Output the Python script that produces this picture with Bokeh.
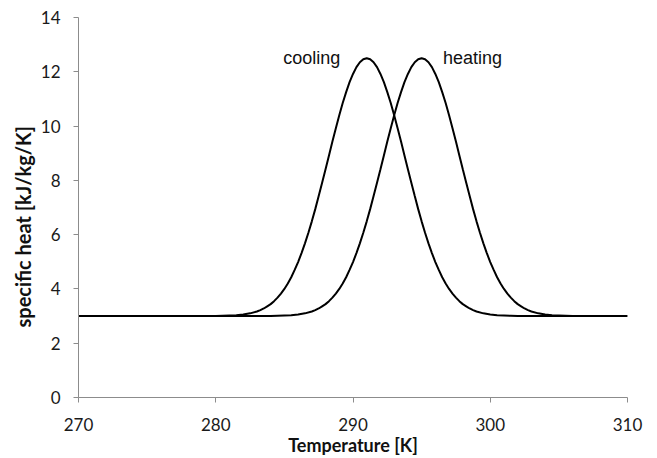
from bokeh.plotting import figure
from bokeh.models import Range1d, FixedTicker, Label, Title
from bokeh.embed import file_html
from bokeh.resources import INLINE

# Temperature grids [K]: coarse on the flanks, finer around each peak
t_cooling = ([270.0] + [280.0 + 0.5 * i for i in range(6)]
             + [283.0 + 0.25 * i for i in range(65)]
             + [299.5 + 0.5 * i for i in range(6)] + [310.0])
t_heating = ([270.0] + [284.0 + 0.5 * i for i in range(6)]
             + [287.0 + 0.25 * i for i in range(65)]
             + [303.5 + 0.5 * i for i in range(6)] + [310.0])

# Apparent specific heat on cooling [kJ/kg/K], peak near 291 K
cp_cooling = [3.00,
              3.00, 3.01, 3.02, 3.03, 3.06, 3.10,
              3.17, 3.22, 3.28, 3.36, 3.44, 3.55, 3.68, 3.83,
              4.00, 4.20, 4.43, 4.70, 4.99, 5.32, 5.68, 6.07,
              6.49, 6.94, 7.42, 7.91, 8.41, 8.92, 9.43, 9.92,
              10.40, 10.85, 11.25, 11.62, 11.92, 12.17, 12.35, 12.46,
              12.50,
              12.46, 12.35, 12.17, 11.92, 11.62, 11.25, 10.85, 10.40,
              9.92, 9.43, 8.92, 8.41, 7.91, 7.42, 6.94, 6.49,
              6.07, 5.68, 5.32, 4.99, 4.70, 4.43, 4.20, 4.00,
              3.83, 3.68, 3.55, 3.44, 3.36, 3.28, 3.22, 3.17,
              3.10, 3.06, 3.03, 3.02, 3.01, 3.00,
              3.00]

# Apparent specific heat on heating [kJ/kg/K], peak near 295 K
cp_heating = [3.00,
              3.00, 3.01, 3.02, 3.03, 3.06, 3.10,
              3.17, 3.22, 3.28, 3.36, 3.44, 3.55, 3.68, 3.83,
              4.00, 4.20, 4.43, 4.70, 4.99, 5.32, 5.68, 6.07,
              6.49, 6.94, 7.42, 7.91, 8.41, 8.92, 9.43, 9.92,
              10.40, 10.85, 11.25, 11.62, 11.92, 12.17, 12.35, 12.46,
              12.50,
              12.46, 12.35, 12.17, 11.92, 11.62, 11.25, 10.85, 10.40,
              9.92, 9.43, 8.92, 8.41, 7.91, 7.42, 6.94, 6.49,
              6.07, 5.68, 5.32, 4.99, 4.70, 4.43, 4.20, 4.00,
              3.83, 3.68, 3.55, 3.44, 3.36, 3.28, 3.22, 3.17,
              3.10, 3.06, 3.03, 3.02, 3.01, 3.00,
              3.00]

x_ticks = [270, 280, 290, 300, 310]
y_ticks = [0, 2, 4, 6, 8, 10, 12, 14]

p = figure(width=657, height=458, output_backend="svg", toolbar_location=None,
           x_range=Range1d(270, 310), y_range=Range1d(0, 14),
           min_border_left=78, min_border_right=30,
           min_border_top=17, min_border_bottom=61)

p.outline_line_color = None
p.xgrid.grid_line_color = None
p.ygrid.grid_line_color = None
p.background_fill_color = "white"
p.border_fill_color = "white"

for ax in (p.xaxis[0], p.yaxis[0]):
    ax.axis_line_color = "#8c8c8c"
    ax.axis_line_width = 1
    ax.major_tick_line_color = "#8c8c8c"
    ax.major_tick_out = 5
    ax.major_tick_in = 0
    ax.minor_tick_line_color = None
    ax.major_label_text_font = "Lato"
    ax.major_label_text_font_size = "17px"
    ax.major_label_text_color = "#1a1a1a"

p.xaxis.ticker = FixedTicker(ticks=x_ticks)
p.yaxis.ticker = FixedTicker(ticks=y_ticks)
p.xaxis.major_label_standoff = 15
p.yaxis.major_label_standoff = 13

p.xaxis.axis_label = "Temperature [K]"
p.xaxis.axis_label_text_font = "Lato"
p.xaxis.axis_label_text_font_style = "bold"
p.xaxis.axis_label_text_font_size = "18px"
p.xaxis.axis_label_text_color = "#111111"
p.xaxis.axis_label_standoff = 0

# Vertical title beside the y axis, starting a little above the frame bottom
p.add_layout(Title(text="specific heat [kJ/kg/K]", align="left",
                   offset=70, standoff=6, text_font="Lato",
                   text_font_style="bold", text_font_size="20px",
                   text_color="#111111"), "left")

p.line(t_cooling, cp_cooling, line_color="black", line_width=2)
p.line(t_heating, cp_heating, line_color="black", line_width=2)

for txt, xv in (("cooling", 287.0), ("heating", 298.7)):
    p.add_layout(Label(x=xv, y=12.5, text=txt, text_align="center",
                       text_baseline="middle", text_font="Liberation Sans",
                       text_font_size="18px", text_color="#111111"))

open("out.html", "w").write(file_html(p, INLINE))
